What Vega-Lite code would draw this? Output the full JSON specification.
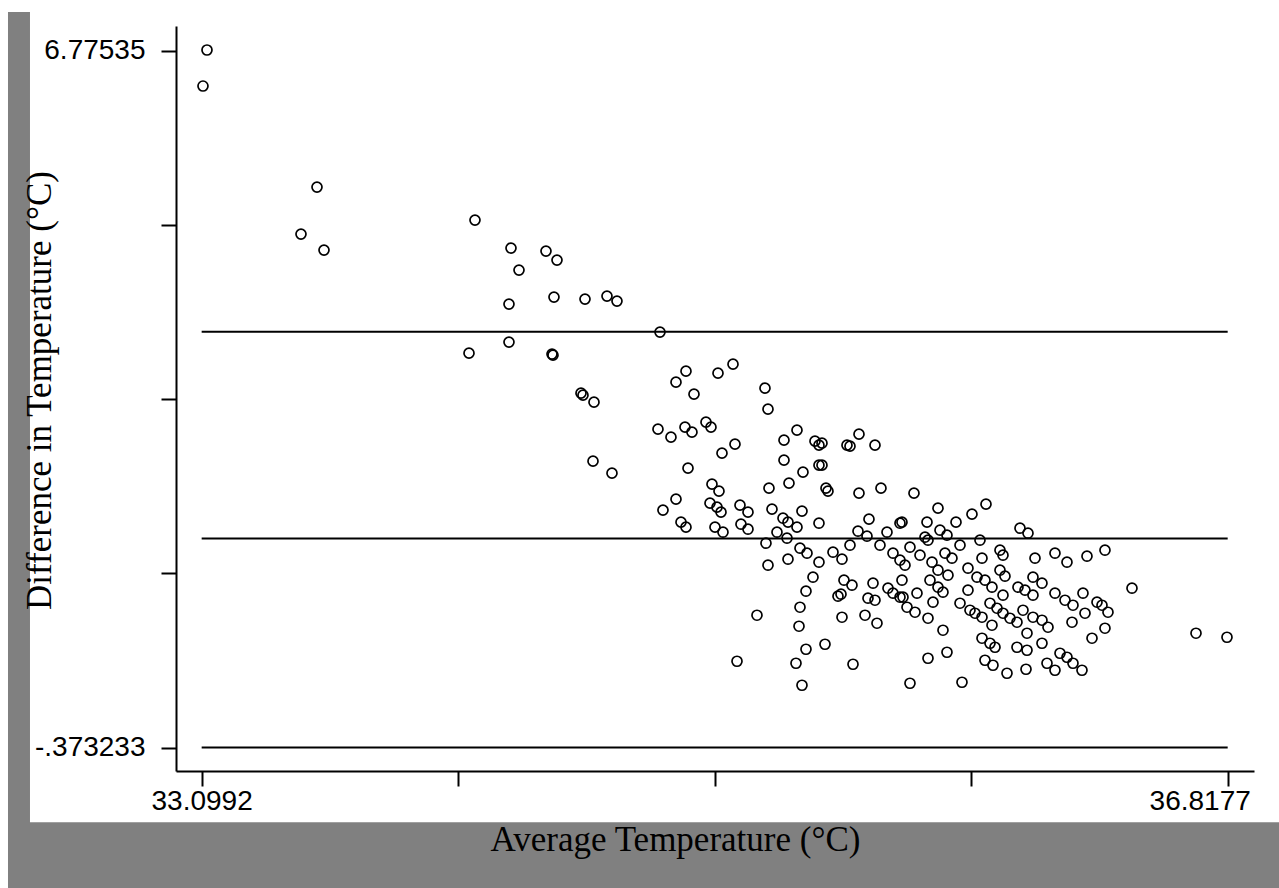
{
  "$schema": "https://vega.github.io/schema/vega-lite/v6.json",
  "width": 1078,
  "height": 745,
  "autosize": {"type": "none"},
  "padding": {"left": 176, "top": 26, "right": 25, "bottom": 117},
  "background": "white",
  "config": {"view": {"stroke": null}, "axis": {"grid": false}},
  "datasets": {
    "points": [
      {"avg": 33.1185, "diff": 6.7825}, {"avg": 33.1040, "diff": 6.4131}, {"avg": 33.5172, "diff": 5.3766}, {"avg": 33.4592, "diff": 4.8943},
      {"avg": 33.5426, "diff": 4.7301}, {"avg": 34.0898, "diff": 5.0380}, {"avg": 34.2203, "diff": 4.7507}, {"avg": 34.3471, "diff": 4.7199},
      {"avg": 34.3870, "diff": 4.6275}, {"avg": 34.2493, "diff": 4.5249}, {"avg": 34.2130, "diff": 4.1760}, {"avg": 34.3761, "diff": 4.2478},
      {"avg": 34.4885, "diff": 4.2273}, {"avg": 34.5682, "diff": 4.2581}, {"avg": 34.6044, "diff": 4.2068}, {"avg": 34.7603, "diff": 3.8887},
      {"avg": 34.0681, "diff": 3.6731}, {"avg": 34.2130, "diff": 3.7860}, {"avg": 34.3689, "diff": 3.6629}, {"avg": 34.3725, "diff": 3.6526},
      {"avg": 34.4740, "diff": 3.2627}, {"avg": 34.4812, "diff": 3.2421}, {"avg": 34.5211, "diff": 3.1703}, {"avg": 34.5175, "diff": 2.5649},
      {"avg": 34.5863, "diff": 2.4417}, {"avg": 34.8545, "diff": 3.4884}, {"avg": 34.8183, "diff": 3.3756}, {"avg": 34.9705, "diff": 3.4679},
      {"avg": 35.0249, "diff": 3.5603}, {"avg": 34.8835, "diff": 3.2524}, {"avg": 35.1408, "diff": 3.3140}, {"avg": 35.1517, "diff": 3.0985},
      {"avg": 34.7530, "diff": 2.8932}, {"avg": 34.8001, "diff": 2.8111}, {"avg": 34.8509, "diff": 2.9138}, {"avg": 34.8762, "diff": 2.8625},
      {"avg": 34.9270, "diff": 2.9651}, {"avg": 34.9451, "diff": 2.9138}, {"avg": 35.0321, "diff": 2.7393}, {"avg": 34.9850, "diff": 2.6469},
      {"avg": 34.8618, "diff": 2.4930}, {"avg": 35.2097, "diff": 2.7804}, {"avg": 35.2568, "diff": 2.8830}, {"avg": 35.3220, "diff": 2.7701},
      {"avg": 35.3365, "diff": 2.7290}, {"avg": 35.4380, "diff": 2.7290}, {"avg": 35.4489, "diff": 2.7188}, {"avg": 35.4815, "diff": 2.8419},
      {"avg": 35.5395, "diff": 2.7290}, {"avg": 35.2097, "diff": 2.5751}, {"avg": 35.2785, "diff": 2.4520}, {"avg": 35.3365, "diff": 2.5238},
      {"avg": 35.2278, "diff": 2.3391}, {"avg": 35.1553, "diff": 2.2878}, {"avg": 35.3619, "diff": 2.2878}, {"avg": 35.3691, "diff": 2.2570},
      {"avg": 35.4815, "diff": 2.2365}, {"avg": 35.5612, "diff": 2.2878}, {"avg": 35.6808, "diff": 2.2365}, {"avg": 34.9487, "diff": 2.3288},
      {"avg": 34.9741, "diff": 2.2570}, {"avg": 34.8183, "diff": 2.1749}, {"avg": 34.7711, "diff": 2.0620}, {"avg": 34.8364, "diff": 1.9389},
      {"avg": 34.8545, "diff": 1.8876}, {"avg": 34.9415, "diff": 2.1338}, {"avg": 34.9669, "diff": 2.0928}, {"avg": 34.9814, "diff": 2.0415},
      {"avg": 34.9596, "diff": 1.8876}, {"avg": 34.9886, "diff": 1.8363}, {"avg": 35.0502, "diff": 2.1133}, {"avg": 35.0792, "diff": 2.0415},
      {"avg": 35.0538, "diff": 1.9183}, {"avg": 35.0792, "diff": 1.8670}, {"avg": 35.1662, "diff": 2.0723}, {"avg": 35.2061, "diff": 1.9799},
      {"avg": 35.2242, "diff": 1.9389}, {"avg": 35.2568, "diff": 1.8876}, {"avg": 35.2749, "diff": 2.0518}, {"avg": 35.3365, "diff": 1.9286},
      {"avg": 35.1843, "diff": 1.8363}, {"avg": 35.2206, "diff": 1.7747}, {"avg": 35.1444, "diff": 1.7234}, {"avg": 35.5177, "diff": 1.9697},
      {"avg": 35.6373, "diff": 1.9389}, {"avg": 35.4779, "diff": 1.8465}, {"avg": 35.5105, "diff": 1.7952}, {"avg": 35.5830, "diff": 1.8363},
      {"avg": 35.4489, "diff": 1.7028}, {"avg": 35.5576, "diff": 1.7028}, {"avg": 35.6663, "diff": 1.6823}, {"avg": 35.3474, "diff": 2.7496},
      {"avg": 35.3474, "diff": 2.5238}, {"avg": 35.7678, "diff": 2.0825}, {"avg": 35.8910, "diff": 2.0210}, {"avg": 35.9418, "diff": 2.1236},
      {"avg": 35.6301, "diff": 1.9286}, {"avg": 35.7280, "diff": 1.9389}, {"avg": 35.8331, "diff": 1.9389}, {"avg": 35.7751, "diff": 1.8568},
      {"avg": 35.8004, "diff": 1.8055}, {"avg": 35.7316, "diff": 1.7542}, {"avg": 35.7207, "diff": 1.7849}, {"avg": 35.8476, "diff": 1.7028},
      {"avg": 35.9200, "diff": 1.7542}, {"avg": 36.0650, "diff": 1.8773}, {"avg": 36.0940, "diff": 1.8260}, {"avg": 35.7026, "diff": 1.6002},
      {"avg": 35.7461, "diff": 1.5284}, {"avg": 35.7932, "diff": 1.6207}, {"avg": 35.8185, "diff": 1.5694}, {"avg": 35.9925, "diff": 1.6515},
      {"avg": 36.0034, "diff": 1.6002}, {"avg": 35.9273, "diff": 1.5694}, {"avg": 36.1194, "diff": 1.5694}, {"avg": 36.1918, "diff": 1.6207},
      {"avg": 36.2353, "diff": 1.5284}, {"avg": 36.3078, "diff": 1.5900}, {"avg": 36.3730, "diff": 1.6515}, {"avg": 35.6482, "diff": 1.4976},
      {"avg": 35.7388, "diff": 1.3437}, {"avg": 35.7678, "diff": 1.4463}, {"avg": 35.8040, "diff": 1.3950}, {"avg": 35.8765, "diff": 1.4668},
      {"avg": 35.9091, "diff": 1.3745}, {"avg": 35.9381, "diff": 1.3437}, {"avg": 35.9635, "diff": 1.2718}, {"avg": 35.9925, "diff": 1.4463},
      {"avg": 36.0106, "diff": 1.3847}, {"avg": 35.6373, "diff": 1.3437}, {"avg": 35.6410, "diff": 1.1692}, {"avg": 35.6917, "diff": 1.2103},
      {"avg": 35.7678, "diff": 1.2718}, {"avg": 35.7859, "diff": 1.2205}, {"avg": 35.8765, "diff": 1.2411}, {"avg": 36.0034, "diff": 1.1897},
      {"avg": 36.0577, "diff": 1.2718}, {"avg": 36.0831, "diff": 1.2411}, {"avg": 36.1121, "diff": 1.1897}, {"avg": 36.1121, "diff": 1.3745},
      {"avg": 36.1447, "diff": 1.3129}, {"avg": 36.1918, "diff": 1.2103}, {"avg": 36.2281, "diff": 1.1384}, {"avg": 36.2571, "diff": 1.0871},
      {"avg": 36.3006, "diff": 1.0050}, {"avg": 36.2933, "diff": 1.2103}, {"avg": 36.3441, "diff": 1.1179}, {"avg": 36.3622, "diff": 1.0871},
      {"avg": 36.3839, "diff": 1.0153}, {"avg": 36.4709, "diff": 1.2616}, {"avg": 35.6555, "diff": 1.0666}, {"avg": 35.6845, "diff": 1.0153},
      {"avg": 35.7316, "diff": 0.9537}, {"avg": 35.7497, "diff": 1.1179}, {"avg": 35.8476, "diff": 1.1076}, {"avg": 35.8838, "diff": 1.0358},
      {"avg": 35.9019, "diff": 1.0050}, {"avg": 35.9273, "diff": 0.9640}, {"avg": 35.9635, "diff": 0.8819}, {"avg": 35.9563, "diff": 1.1076},
      {"avg": 35.9816, "diff": 1.0563}, {"avg": 36.0034, "diff": 1.0050}, {"avg": 36.0287, "diff": 0.9537}, {"avg": 36.0541, "diff": 0.9127},
      {"avg": 36.0759, "diff": 1.0358}, {"avg": 36.1121, "diff": 0.9640}, {"avg": 36.1447, "diff": 0.9332}, {"avg": 36.1665, "diff": 0.8614},
      {"avg": 36.0904, "diff": 0.7998}, {"avg": 36.1447, "diff": 0.6971}, {"avg": 36.0541, "diff": 0.6561}, {"avg": 36.0904, "diff": 0.6253},
      {"avg": 35.9273, "diff": 0.7485}, {"avg": 35.9563, "diff": 0.6971}, {"avg": 35.9744, "diff": 0.6561}, {"avg": 35.7859, "diff": 0.8306},
      {"avg": 36.2535, "diff": 0.9127}, {"avg": 36.3260, "diff": 0.7485}, {"avg": 36.3730, "diff": 0.8511}, {"avg": 35.8004, "diff": 0.6048},
      {"avg": 35.7316, "diff": 0.5432}, {"avg": 35.9381, "diff": 0.5227}, {"avg": 35.9671, "diff": 0.4714}, {"avg": 36.0179, "diff": 0.3893},
      {"avg": 36.0868, "diff": 0.4304}, {"avg": 36.1629, "diff": 0.4919}, {"avg": 36.1918, "diff": 0.4201}, {"avg": 36.2100, "diff": 0.5945},
      {"avg": 36.2353, "diff": 0.5535}, {"avg": 36.2571, "diff": 0.4919}, {"avg": 36.2897, "diff": 0.4201}, {"avg": 35.6663, "diff": 0.2867},
      {"avg": 35.8548, "diff": 0.2969}, {"avg": 36.7029, "diff": 0.7998}, {"avg": 36.8152, "diff": 0.7587}, {"avg": 35.2677, "diff": 1.6721},
      {"avg": 35.2931, "diff": 1.6207}, {"avg": 35.1517, "diff": 1.4976}, {"avg": 35.2242, "diff": 1.5592}, {"avg": 35.3365, "diff": 1.5284},
      {"avg": 35.3873, "diff": 1.6310}, {"avg": 35.4199, "diff": 1.5592}, {"avg": 35.6047, "diff": 1.6207}, {"avg": 35.6301, "diff": 1.5489},
      {"avg": 35.3148, "diff": 1.3745}, {"avg": 35.2894, "diff": 1.2308}, {"avg": 35.2677, "diff": 1.0666}, {"avg": 35.2641, "diff": 0.8716},
      {"avg": 35.1118, "diff": 0.9845}, {"avg": 35.4271, "diff": 1.3437}, {"avg": 35.4561, "diff": 1.2924}, {"avg": 35.4054, "diff": 1.1795},
      {"avg": 35.4163, "diff": 1.2000}, {"avg": 35.5323, "diff": 1.3129}, {"avg": 35.5141, "diff": 1.1590}, {"avg": 35.5395, "diff": 1.1384},
      {"avg": 35.5866, "diff": 1.2616}, {"avg": 35.6047, "diff": 1.2103}, {"avg": 35.6301, "diff": 1.1692}, {"avg": 35.4199, "diff": 0.9640},
      {"avg": 35.5033, "diff": 0.9845}, {"avg": 35.5467, "diff": 0.9024}, {"avg": 35.3583, "diff": 0.6869}, {"avg": 35.2894, "diff": 0.6356},
      {"avg": 35.2532, "diff": 0.4919}, {"avg": 35.0394, "diff": 0.5125}, {"avg": 35.4598, "diff": 0.4817}, {"avg": 35.2749, "diff": 0.2662}
    ],
    "limits": [{"limit": 3.8917}, {"limit": 1.7716}, {"limit": -0.373233}]
  },
  "layer": [
    {
      "data": {"values": [{}]},
      "mark": {"type": "rect", "fill": "#808080", "clip": false},
      "encoding": {
        "x": {"datum": 32.3973, "type": "quantitative", "scale": {"domain": [33.0062, 36.9131], "nice": false, "zero": false}},
        "x2": {"datum": 37.4},
        "y": {"datum": 7.1725, "type": "quantitative", "scale": {"domain": [-0.6134, 7.0288], "nice": false, "zero": false}},
        "y2": {"datum": -2.8}
      }
    },
    {
      "data": {"values": [{}]},
      "mark": {"type": "rect", "fill": "#ffffff", "clip": false},
      "encoding": {
        "x": {"datum": 32.477, "type": "quantitative", "scale": {"domain": [33.0062, 36.9131], "nice": false, "zero": false}},
        "x2": {"datum": 37.4},
        "y": {"datum": 7.5, "type": "quantitative", "scale": {"domain": [-0.6134, 7.0288], "nice": false, "zero": false}},
        "y2": {"datum": -1.1395}
      }
    },
    {
      "data": {"name": "limits"},
      "mark": {"type": "rule", "color": "#000000", "strokeWidth": 2},
      "encoding": {
        "y": {"field": "limit", "type": "quantitative", "scale": {"domain": [-0.6134, 7.0288], "nice": false, "zero": false}},
        "x": {"datum": 33.0992, "type": "quantitative", "scale": {"domain": [33.0062, 36.9131], "nice": false, "zero": false}},
        "x2": {"datum": 36.8177}
      }
    },
    {
      "data": {"name": "points"},
      "mark": {"type": "point", "shape": "circle", "filled": false, "stroke": "#000000", "strokeWidth": 1.7, "size": 100, "opacity": 1},
      "encoding": {
        "x": {
          "field": "avg", "type": "quantitative",
          "scale": {"domain": [33.0062, 36.9131], "nice": false, "zero": false},
          "axis": {
            "zindex": 2,
            "values": [33.0992, 34.028825, 34.95845, 35.888075, 36.8177],
            "labelExpr": "datum.value == 33.0992 ? '33.0992' : (datum.value == 36.8177 ? '36.8177' : '')",
            "labelFont": "Liberation Sans", "labelFontSize": 28, "labelColor": "#000000",
            "labelPadding": 1, "labelOverlap": false, "labelFlush": false, "labelBound": false,
            "labelOffset": {"condition": {"test": "datum.value > 36.5", "value": -28}, "value": 0},
            "tickSize": 15, "tickWidth": 2, "tickColor": "#000000",
            "domainColor": "#000000", "domainWidth": 2,
            "title": "Average Temperature (°C)", "titleFont": "Liberation Serif", "titleFontSize": 35,
            "titleFontWeight": "normal", "titleColor": "#000000",
            "titleX": 499, "titleY": 79, "titleAlign": "center", "titleBaseline": "alphabetic"
          }
        },
        "y": {
          "field": "diff", "type": "quantitative",
          "scale": {"domain": [-0.6134, 7.0288], "nice": false, "zero": false},
          "axis": {
            "zindex": 2,
            "values": [-0.373233, 1.413913, 3.201059, 4.988204, 6.77535],
            "labelExpr": "datum.value == 6.77535 ? '6.77535' : (datum.value == -0.373233 ? '-.373233' : '')",
            "labelFont": "Liberation Sans", "labelFontSize": 28, "labelColor": "#000000",
            "labelPadding": 16, "labelOverlap": false, "labelFlush": false, "labelBound": false,
            "tickSize": 15, "tickWidth": 2, "tickColor": "#000000",
            "domainColor": "#000000", "domainWidth": 2,
            "title": "Difference in Temperature (°C)", "titleFont": "Liberation Serif", "titleFontSize": 35,
            "titleFontWeight": "normal", "titleColor": "#000000",
            "titleAngle": -90, "titleX": -126, "titleY": 364, "titleAlign": "center", "titleBaseline": "alphabetic"
          }
        }
      }
    }
  ]
}
